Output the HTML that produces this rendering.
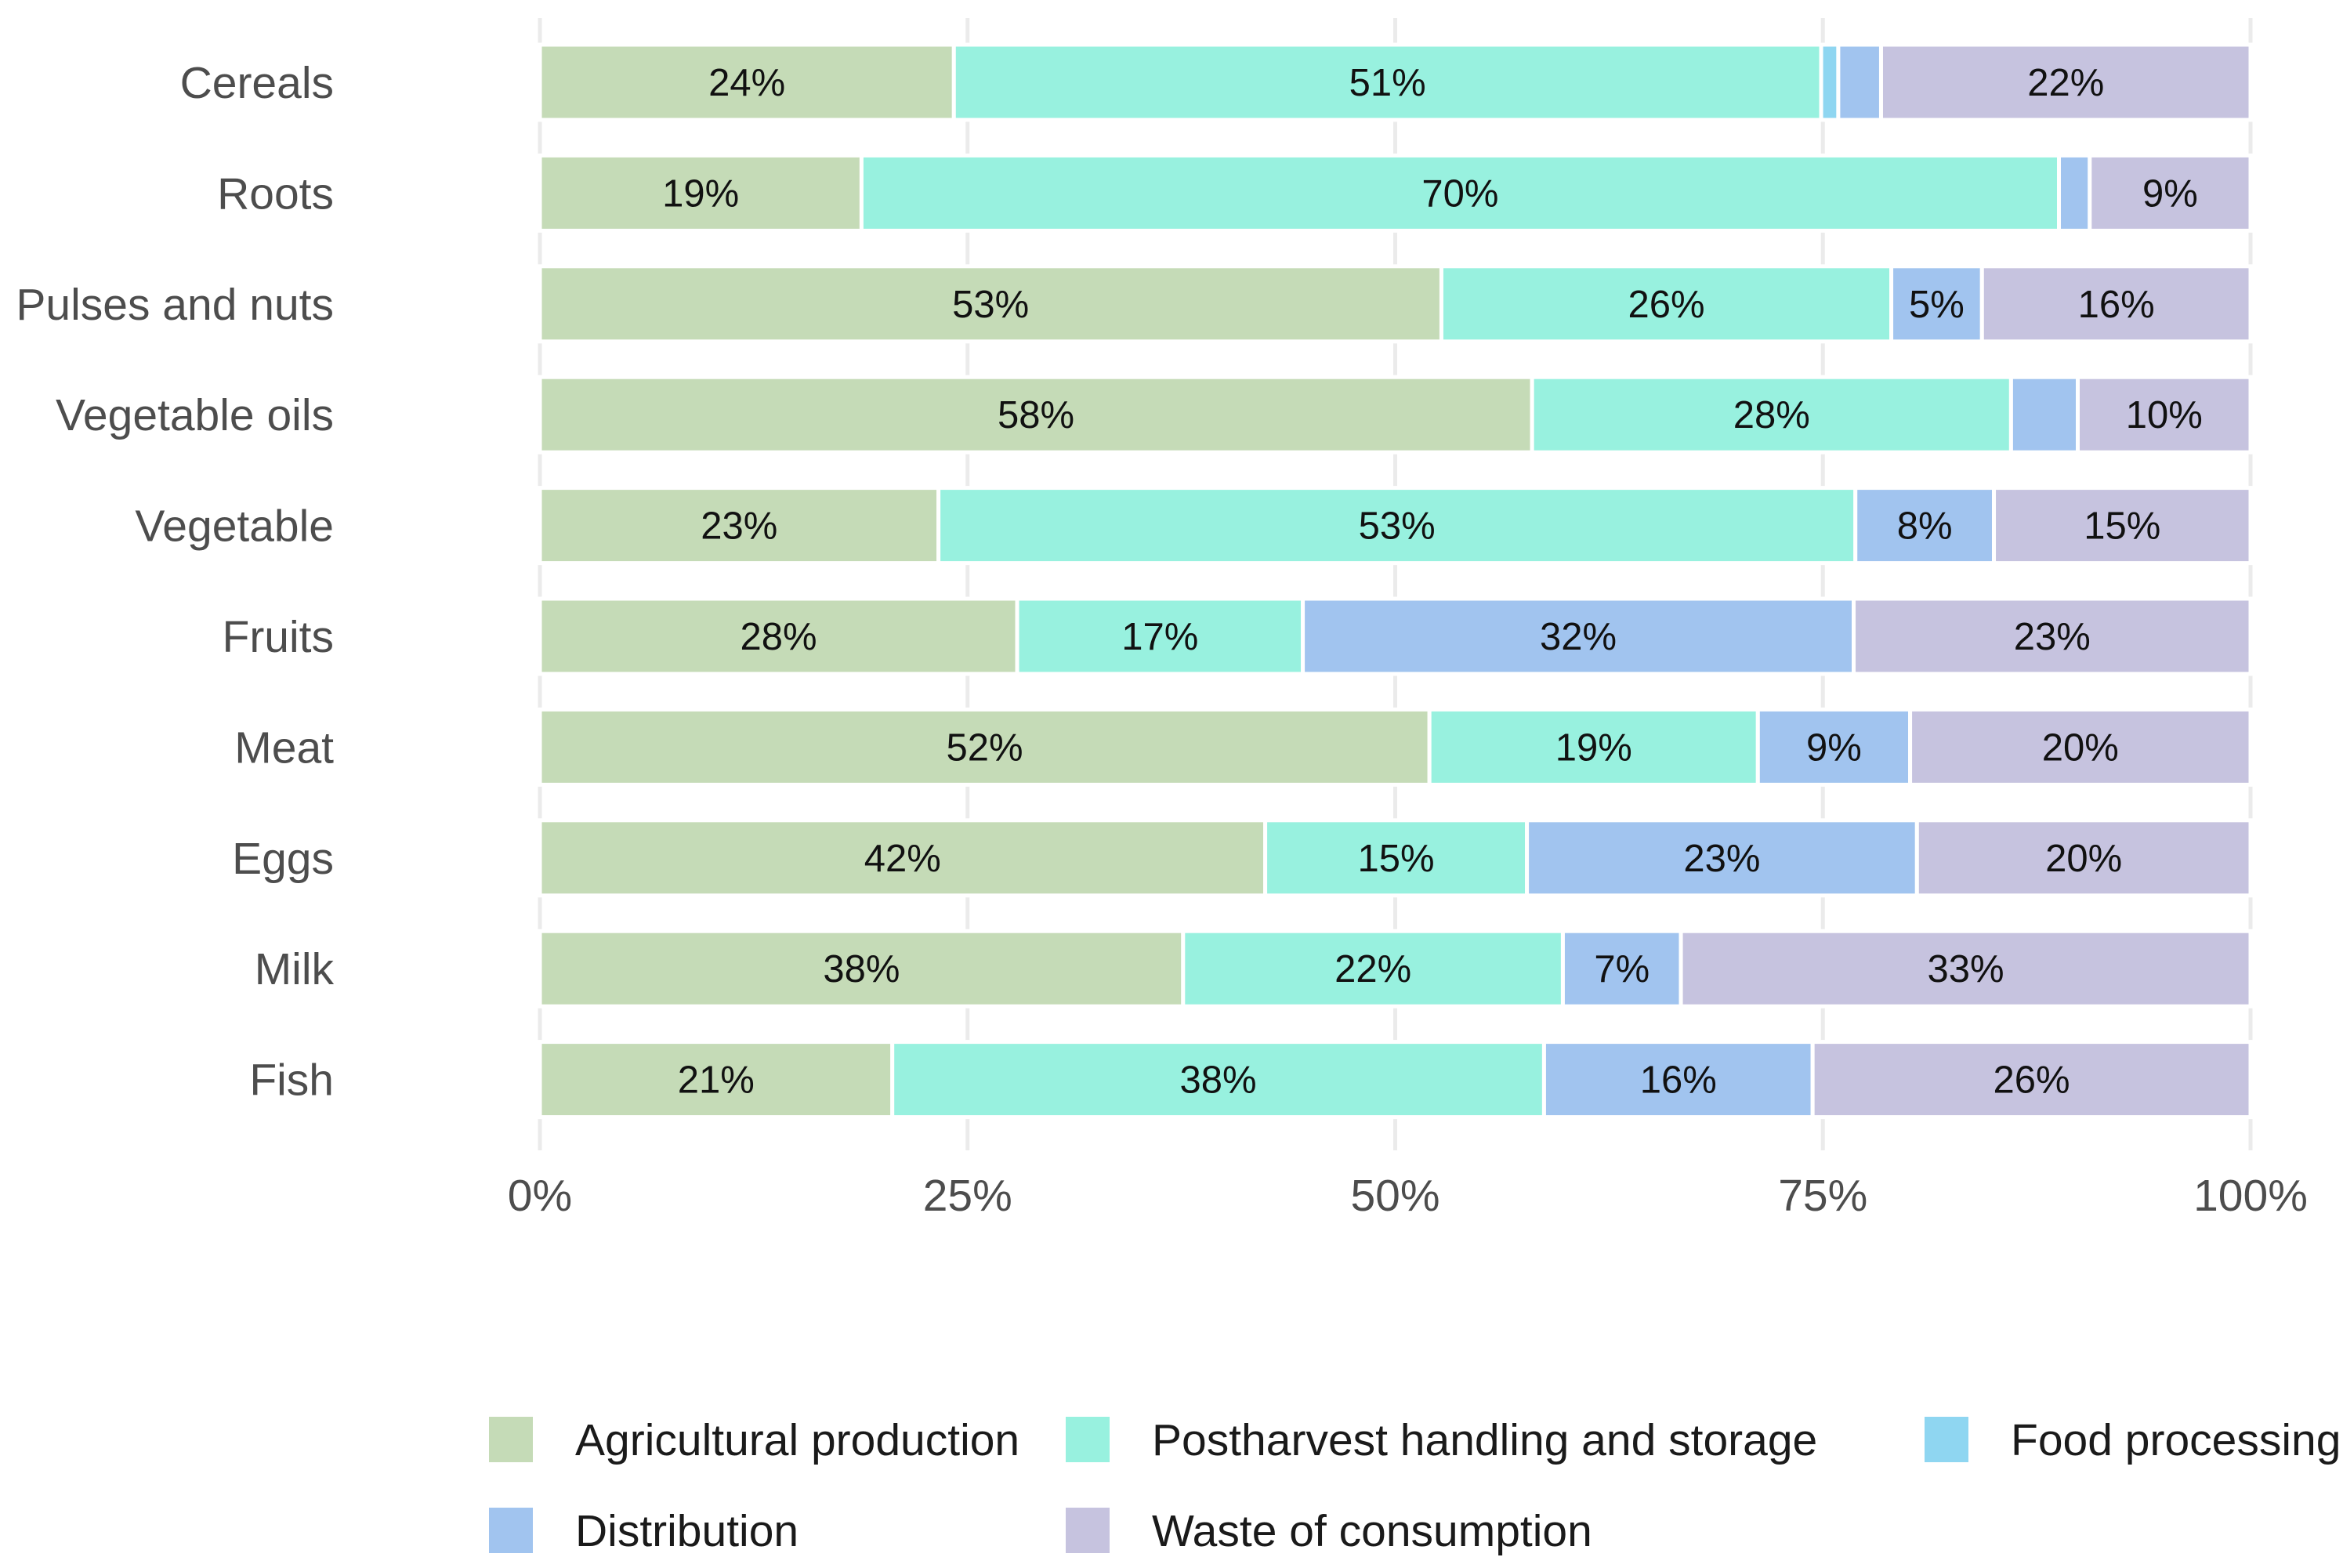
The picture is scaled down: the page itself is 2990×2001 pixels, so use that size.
<!DOCTYPE html>
<html><head><meta charset="utf-8"><style>
html,body{margin:0;padding:0;background:#fff;}
svg{display:block;font-family:"Liberation Sans",Arial,sans-serif;}
</style></head><body>
<svg id="chart" width="2990" height="2001" viewBox="0 0 2990 2001" xmlns="http://www.w3.org/2000/svg">
<g id="grid"></g>
<g id="bars"></g>
<g id="ylabels"></g>
<g id="xlabels"></g>
<g id="legend"></g>
</svg>
<script>
const categories = ["Cereals","Roots","Pulses and nuts","Vegetable oils","Vegetable","Fruits","Meat","Eggs","Milk","Fish"];
const seriesNames = ["Agricultural production","Postharvest handling and storage","Food processing","Distribution","Waste of consumption"];
const agricultural = [24.2,18.8,52.7,58.0,23.3,27.9,52.0,42.4,37.6,20.6];
const postharvest  = [50.7,70.0,26.3,28.0,53.6,16.7,19.2,15.3,22.2,38.1];
const processing   = [1.0,0,0,0,0,0,0,0,0,0];
const distribution = [2.5,1.8,5.3,3.9,8.1,32.2,8.9,22.8,6.9,15.7];
const waste        = [21.6,9.4,15.7,10.1,15.0,23.2,19.9,19.5,33.3,25.6];
const labelsAgri  = ["24%","19%","53%","58%","23%","28%","52%","42%","38%","21%"];
const labelsPost  = ["51%","70%","26%","28%","53%","17%","19%","15%","22%","38%"];
const labelsProc  = ["","","","","","","","","",""];
const labelsDist  = ["","","5%","","8%","32%","9%","23%","7%","16%"];
const labelsWaste = ["22%","9%","16%","10%","15%","23%","20%","20%","33%","26%"];
const xTicks = [0,25,50,75,100];
const xTickLabels = ["0%","25%","50%","75%","100%"];

const colors = ["#c5dbb7","#98f1df","#8fd6f1","#a1c4ef","#c6c3df"];
const NS="http://www.w3.org/2000/svg";
const X0=689, X1=2872, Y0=105, PITCH=141.4, BH=96;
const xs = v => X0 + (X1-X0)*v/100;
const ys = i => Y0 + PITCH*i;
function mk(tag, attrs, parent){const e=document.createElementNS(NS,tag);for(const k in attrs)e.setAttribute(k,attrs[k]);parent.appendChild(e);return e;}

const grid=document.getElementById('grid');
xTicks.forEach(t=>{
  const l=mk('line',{x1:xs(t),x2:xs(t),y1:23,y2:1468,stroke:'#ebebeb','stroke-width':5},grid);
  
  
});

const series=[agricultural,postharvest,processing,distribution,waste];
const labels=[labelsAgri,labelsPost,labelsProc,labelsDist,labelsWaste];
const keys=['agricultural','postharvest','processing','distribution','waste'];
const bars=document.getElementById('bars');
categories.forEach((c,i)=>{
  let cum=0; const yc=ys(i);
  series.forEach((s,k)=>{
    const v=s[i]; if(!v){return;}
    const xa=xs(cum), xb=xs(cum+v);
    const r=mk('rect',{x:xa,y:yc-BH/2,width:xb-xa,height:BH,fill:colors[k],stroke:'#fff','stroke-width':5},bars);
    
    
    if(labels[k][i]){
      const t=mk('text',{x:(xa+xb)/2,y:yc+17,'text-anchor':'middle','font-size':49,fill:'#111'},bars);
      t.textContent=labels[k][i];
      
      
    }
    cum+=v;
  });
  const yl=mk('text',{x:426,y:yc+20,'text-anchor':'end','font-size':57,fill:'#4d4d4d'},document.getElementById('ylabels'));
  yl.textContent=c;
  
  
});

const xl=document.getElementById('xlabels');
xTicks.forEach((t,j)=>{
  const e=mk('text',{x:xs(t),y:1545,'text-anchor':'middle','font-size':57,fill:'#4d4d4d'},xl);
  e.textContent=xTickLabels[j];
  
  
});

const lg=document.getElementById('legend');
const legendPos=[[624,1808],[1360,1808],[2456,1808],[624,1924],[1360,1924]];
seriesNames.forEach((n,k)=>{
  const [lx,ly]=legendPos[k];
  const r=mk('rect',{x:lx,y:ly,width:56,height:58,fill:colors[k]},lg);
  
  
  const t=mk('text',{x:lx+110,y:ly+49,'font-size':57,fill:'#1a1a1a'},lg);
  t.textContent=n;
  
  
});
</script>
</body></html>
